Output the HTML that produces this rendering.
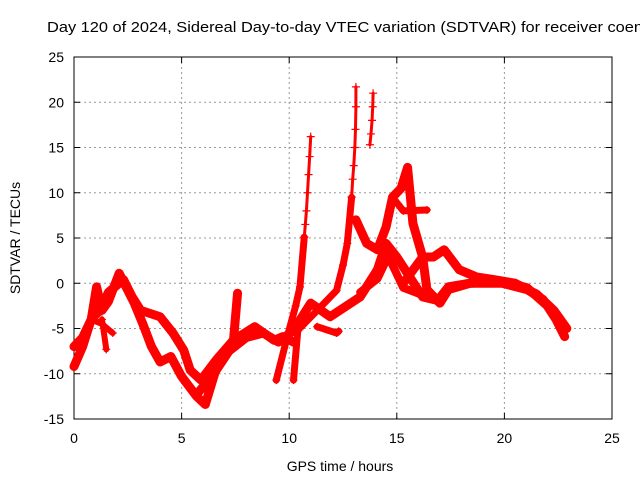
<!DOCTYPE html>
<html><head><meta charset="utf-8"><style>
body{margin:0;background:#fff;}
svg{display:block;font-family:"Liberation Sans",sans-serif;}
</style></head><body>
<svg id="chart" width="640" height="480">
<text x="47" y="32" font-size="15" textLength="596" lengthAdjust="spacingAndGlyphs">Day 120 of 2024, Sidereal Day-to-day VTEC variation (SDTVAR) for receiver coen</text>
<g id="grid"></g><g id="axes"></g><g id="series"></g>
<text x="340" y="471" font-size="14" text-anchor="middle">GPS time / hours</text>
<text transform="translate(20,238) rotate(-90)" font-size="14" text-anchor="middle">SDTVAR / TECUs</text>
</svg>
<script>
const xTicks=[0,5,10,15,20,25];
const yTicks=[-15,-10,-5,0,5,10,15,20,25];
const traceA=[[0,-7],[0.4,-6],[0.8,-4],[1.05,-0.4],[1.3,-3],[1.6,-2],[2.1,1.1],[2.8,-2.2],[3.2,-4.5],[3.6,-7],[4.0,-8.7],[4.5,-8.1],[5.0,-10.3],[5.7,-12.5],[6.1,-13.4],[6.6,-9.5],[7.0,-8],[7.4,-6.6],[7.6,-1.1]];
const traceB=[[0,-9.2],[0.4,-7],[0.8,-4],[1.2,-3],[1.6,-1],[2.3,0.4],[2.7,-1.5],[3.1,-3],[4.0,-3.7],[4.6,-5.5],[5.1,-7.4],[5.4,-9.6],[5.9,-10.7],[6.6,-8.5],[7.4,-6.3],[8.4,-4.8],[9.3,-6.3],[9.7,-5.9],[10.2,-6.5]];
const traceC=[[1.3,-4],[1.5,-7.3]];
const traceD=[[0.8,-4],[1.3,-4.5],[1.8,-5.5]];
const traceE=[[5.8,-12],[6.5,-10],[7.2,-7.5],[8.0,-6],[8.8,-5.5],[9.5,-6.5],[10.2,-5.2],[11.0,-2.2],[11.9,-3.7],[13.3,-1.5],[14.1,1.5],[14.5,4.4],[15.0,2.9],[15.6,0.7],[16.2,-1.5],[16.9,-1.9],[17.4,-0.4],[18.4,0],[19.9,0],[21.05,-0.7],[21.8,-1.8],[22.4,-4],[22.8,-5.9]];
const traceF=[[9.4,-10.7],[9.9,-6],[10.3,-2.5],[10.5,-0.4],[10.7,5.1]];
const spike1=[[10.7,5.1],[10.75,6.5],[10.8,8],[10.85,10],[10.9,12],[10.95,14],[11.0,16.2]];
const traceG=[[10.2,-10.7],[10.4,-5.2],[11.3,-3],[12.2,-0.8],[12.5,2],[12.7,4.4],[12.9,9.5]];
const spike2=[[12.9,9.5],[12.95,11.5],[13.0,13],[13.05,15],[13.08,17],[13.1,19.5],[13.1,21.7]];
const spike3=[[13.75,15.3],[13.8,16.5],[13.85,18],[13.88,19.5],[13.9,21]];
const traceH=[[13.1,7],[13.6,4.4],[14.1,3.7],[14.5,6.2],[14.8,9.5],[15.2,10.5],[15.5,12.8],[15.75,6.6],[16.2,2.9],[16.4,-0.7],[17.0,-2.2],[17.4,-0.7],[18.4,0],[19.9,0.2],[21.05,-0.5],[22.0,-2.5],[22.8,-5]];
const traceI=[[14.8,9.5],[15.3,8],[16.4,8.1]];
const traceJ=[[15.3,0],[16.2,2.9],[16.7,2.9],[17.2,3.7],[17.9,1.5],[18.7,0.7],[19.5,0.4],[20.5,0],[21.5,-1.2],[22.3,-3],[22.9,-5]];
const traceK=[[11.3,-4.8],[12.2,-5.5],[12.3,-5.3]];
const traceL=[[13.3,-1],[14.1,0.5],[14.6,3],[15.0,1],[15.3,-0.5],[16.4,-1.5]];
const X0=74,X1=612,Y0=419,Y1=57;
const xs=h=>X0+(h-0)/25*(X1-X0);
const ys=v=>Y0-(v+15)/40*(Y0-Y1);
const NS="http://www.w3.org/2000/svg";
const grid=document.getElementById('grid'),axes=document.getElementById('axes'),ser=document.getElementById('series');
function mk(tag,attrs,parent){const e=document.createElementNS(NS,tag);for(const k in attrs)e.setAttribute(k,attrs[k]);parent.appendChild(e);return e;}
xTicks.forEach(t=>{const x=xs(t);
 if(t>0&&t<25){const g=mk('line',{x1:x,x2:x,y1:Y0,y2:Y1,stroke:'#999','stroke-dasharray':'2,3'},grid);
 
 }
 mk('line',{x1:x,x2:x,y1:Y0,y2:Y0-6,stroke:'#000'},axes);mk('line',{x1:x,x2:x,y1:Y1,y2:Y1+6,stroke:'#000'},axes);
 const l=mk('text',{x:x,y:Y0+24,'font-size':14,'text-anchor':'middle'},axes);l.textContent=t;
 
 });
yTicks.forEach(t=>{const y=ys(t);
 if(t>-15&&t<25){const g=mk('line',{x1:X0,x2:X1,y1:y,y2:y,stroke:'#999','stroke-dasharray':'2,3'},grid);
 
 }
 mk('line',{x1:X0,x2:X0+6,y1:y,y2:y,stroke:'#000'},axes);mk('line',{x1:X1,x2:X1-6,y1:y,y2:y,stroke:'#000'},axes);
 const l=mk('text',{x:X0-10,y:y+5,'font-size':14,'text-anchor':'end'},axes);l.textContent=t;
 
 });
const fr=mk('rect',{x:X0,y:Y1,width:X1-X0,height:Y0-Y1,fill:'none',stroke:'#000'},axes);


function drawTrace(d,w,name){
 const p=mk('polyline',{points:d.map(q=>xs(q[0])+','+ys(q[1])).join(' '),fill:'none',stroke:'#f00','stroke-width':w,'stroke-linejoin':'round','stroke-linecap':'round'},ser);
 
 
 d.forEach(q=>{const m=mk('path',{d:`M${xs(q[0])-4},${ys(q[1])}h8M${xs(q[0])},${ys(q[1])-4}v8`,stroke:'#f00','stroke-width':1.2},ser);
  
  });
}
drawTrace(traceA,9,'trace-a');drawTrace(traceB,9,'trace-b');drawTrace(traceC,6,'trace-c');drawTrace(traceD,6,'trace-d');
drawTrace(traceE,9,'trace-e');drawTrace(traceF,7,'trace-f');drawTrace(traceG,7,'trace-g');drawTrace(traceH,9,'trace-h');
drawTrace(traceI,7,'trace-i');drawTrace(traceJ,9,'trace-j');drawTrace(traceK,7,'trace-k');drawTrace(traceL,8,'trace-l');
drawTrace(spike1,3,'spike-1');drawTrace(spike2,3,'spike-2');drawTrace(spike3,3,'spike-3');
</script>
</body></html>
